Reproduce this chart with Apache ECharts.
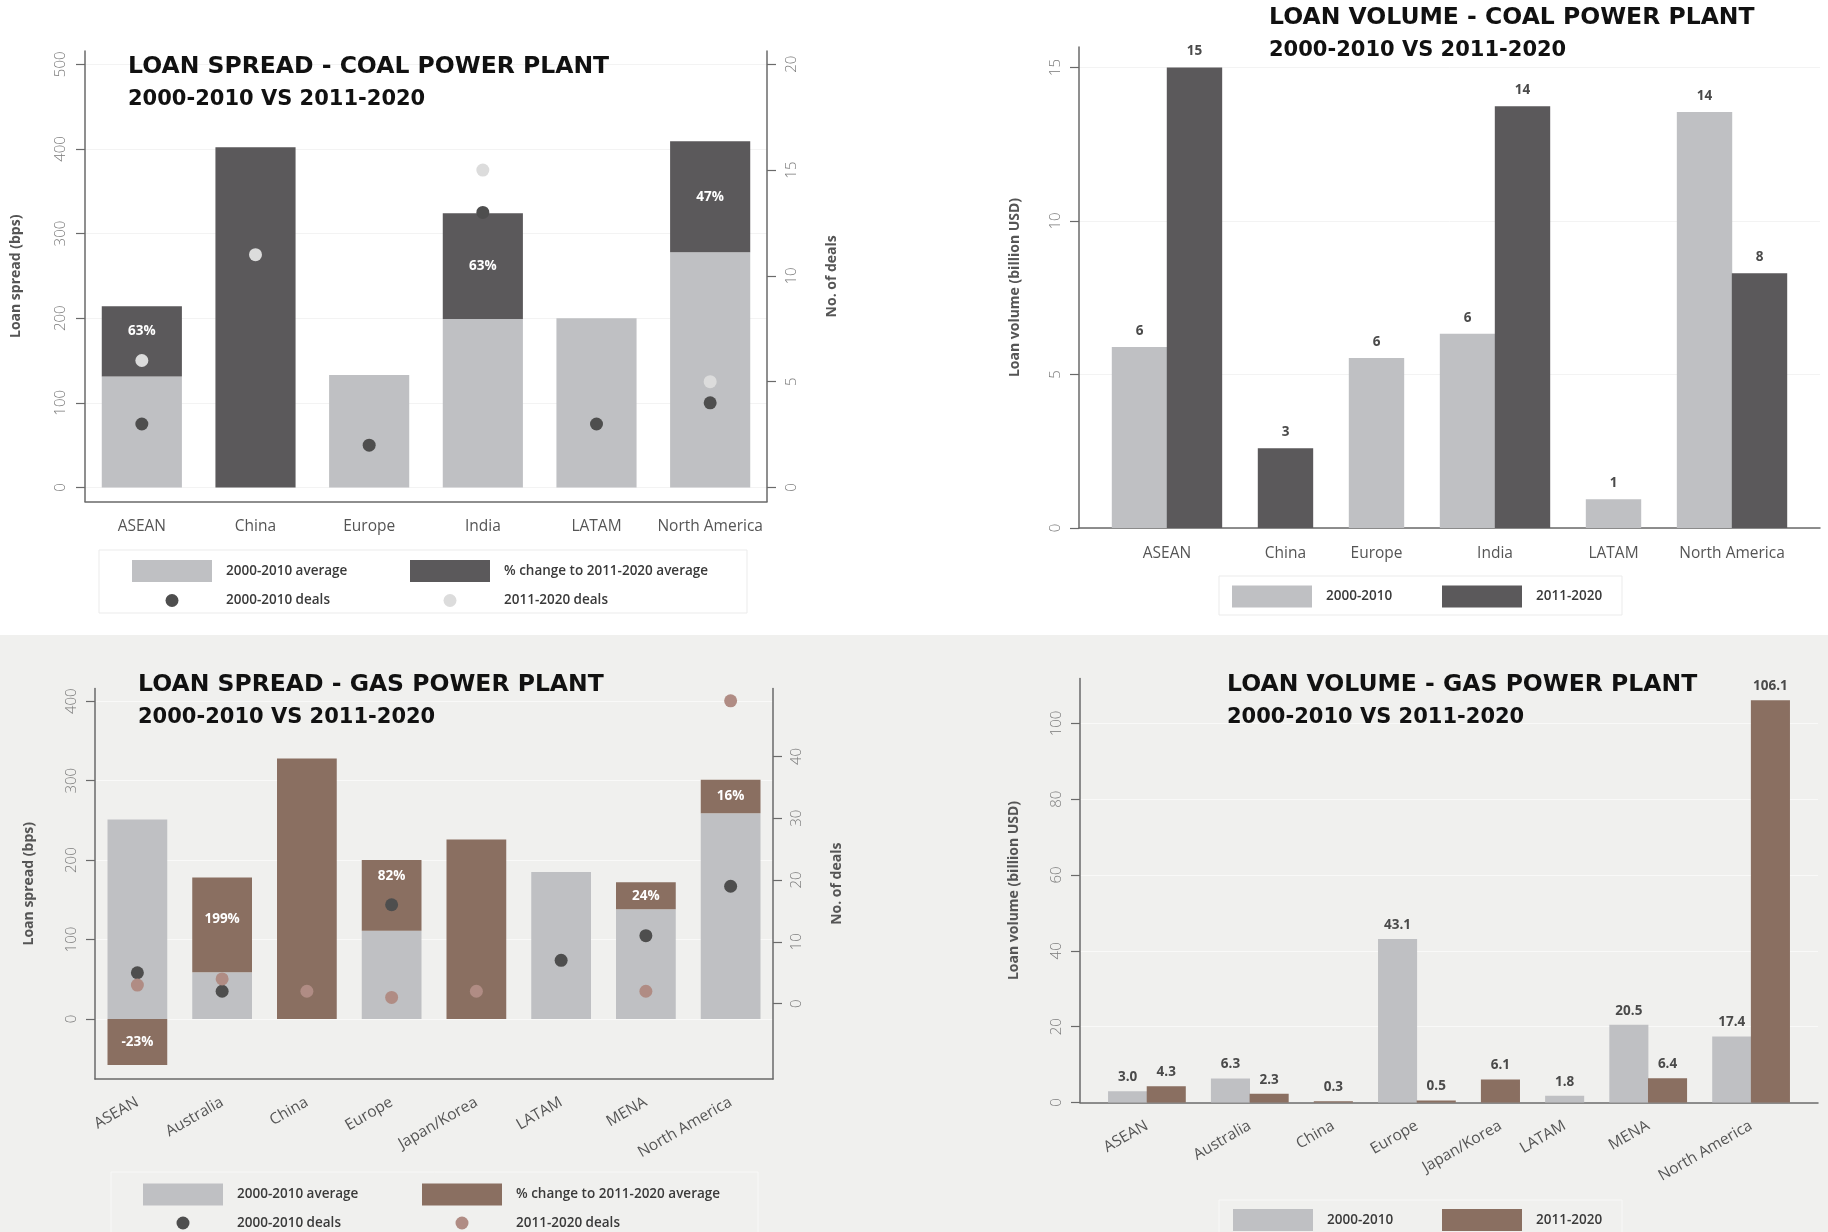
<!DOCTYPE html>
<html><head><meta charset="utf-8">
<script src="https://cdn.jsdelivr.net/npm/echarts@6/dist/echarts.min.js"></script>
<style>
html,body{margin:0;padding:0;width:1828px;height:1232px;overflow:hidden;background:#fff}
.p{position:absolute}
#tl{left:0;top:0;width:914px;height:635px;background:#ffffff}
#tr{left:914px;top:0;width:914px;height:635px;background:#ffffff}
#bl{left:0;top:635px;width:914px;height:597px;background:#f0f0ee}
#br{left:914px;top:635px;width:914px;height:597px;background:#f0f0ee}
</style></head><body>
<div id="tl" class="p"></div><div id="tr" class="p"></div>
<div id="bl" class="p"></div><div id="br" class="p"></div>
<script>
// ---------------- DATA ----------------
const coalCats = ['ASEAN', 'China', 'Europe', 'India', 'LATAM', 'North America'];
const coalAvg0010 = [131, null, 133, 199, 200, 278];
const coalAvg1120 = [214, 402, null, 324, null, 409];
const coalPctChange = [63, null, null, 63, null, 47];
const coalDeals0010 = [3, null, 2, 13, 3, 4];
const coalDeals1120 = [6, 11, null, 15, null, 5];
const coalSpreadTicks = [0, 100, 200, 300, 400, 500];
const coalDealTicks = [0, 5, 10, 15, 20];

const coalVol0010 = [5.9, null, 5.54, 6.33, 0.94, 13.55];
const coalVol1120 = [15.0, 2.6, null, 13.74, null, 8.3];
const coalVolTicks = [0, 5, 10, 15];

const gasCats = ['ASEAN', 'Australia', 'China', 'Europe', 'Japan/Korea', 'LATAM', 'MENA', 'North America'];
const gasAvg0010 = [251, 59, null, 111, null, 185, 138, 259];
const gasAvg1120 = [193, 178, 328, 200, 226, null, 172, 301];
const gasPctChange = [-23, 199, null, 82, null, null, 24, 16];
const gasDeals0010 = [5, 2, null, 16, null, 7, 11, 19];
const gasDeals1120 = [3, 4, 2, 1, 2, null, 2, 49];
const gasSpreadTicks = [0, 100, 200, 300, 400];
const gasDealTicks = [0, 10, 20, 30, 40];

const gasVol0010 = [3.0, 6.3, null, 43.1, null, 1.8, 20.5, 17.4];
const gasVol1120 = [4.3, 2.3, 0.3, 0.5, 6.1, null, 6.4, 106.1];
const gasVolTicks = [0, 20, 40, 60, 80, 100];

// ---------------- STYLE ----------------
const FONT = "'Open Sans', 'DejaVu Sans', sans-serif";
const TFONT = "'DejaVu Sans', sans-serif";
const C = {
  light: '#bfc0c3', dark: '#5b595b', brown: '#8a6f61',
  dotDark: '#4e4e4e', dotLightCoal: '#dcdcdc', dotLightGas: '#b08c84', axis: '#6a6a6a'
};

function titleCfg(main, left, top) {
  return {
    text: main, subtext: '2000-2010 VS 2011-2020', left: left, top: top, padding: 0, itemGap: 10.5,
    textStyle: { fontFamily: TFONT, fontWeight: 'bold', fontSize: 23.5, color: '#111' },
    subtextStyle: { fontFamily: TFONT, fontWeight: 'bold', fontSize: 21, color: '#111' }
  };
}

function yAxisCfg(o) {
  return {
    type: 'value', min: o.min, max: o.max, position: o.position,
    name: o.name, nameLocation: 'middle', nameGap: o.nameGap, nameRotate: 90,
    nameTextStyle: { fontFamily: FONT, fontWeight: 'bold', fontSize: 14, color: '#555' },
    axisLine: { show: true, onZero: false, lineStyle: { color: C.axis, width: 1.5 } },
    axisTick: { show: true, length: 9, customValues: o.ticks, lineStyle: { color: C.axis, width: 1.2 } },
    axisLabel: { customValues: o.ticks, rotate: 90, margin: o.margin, fontFamily: FONT, fontSize: 15, fontWeight: 300, color: '#7a7a7a' },
    splitLine: { show: !!o.grid, lineStyle: { color: o.grid || '#eee', width: 1 } }
  };
}

// rect legend items: icon 80 wide, text starts 14px after the icon
function legendRect(name, left, top) {
  return {
    data: [{ name: name, icon: 'rect' }], left: left, top: top, itemWidth: 80, itemHeight: 22,
    padding: 0, selectedMode: false,
    textStyle: { fontFamily: FONT, fontWeight: 600, fontSize: 13.5, color: '#3a3a3a', padding: [0, 0, 0, 9] }
  };
}
// dot legend items: dot centred under the 80px rect slot, text aligned with the rect text
function legendDot(name, slotLeft, top) {
  return {
    data: [{ name: name, icon: 'circle' }], left: slotLeft + 40 - 6.5, top: top, itemWidth: 13, itemHeight: 13,
    padding: 0, selectedMode: false,
    textStyle: { fontFamily: FONT, fontWeight: 600, fontSize: 13.5, color: '#3a3a3a', padding: [0, 0, 0, 42.5] }
  };
}

function boxCfg(x, y, w, h, stroke) {
  return { type: 'rect', z: 0, shape: { x: x, y: y, width: w, height: h }, style: { fill: 'none', stroke: stroke, lineWidth: 1 } };
}

function spreadOption(o) {
  const change = o.avg1120.map((v, i) => v == null ? null : (o.avg0010[i] == null ? v : v - o.avg0010[i]));
  const changeData = change.map((v, i) => ({
    value: v,
    label: { offset: [0, o.labelShift[o.cats[i]] || 0] }
  }));
  return {
    animation: false,
    title: titleCfg(o.title, o.titleLeft, o.titleTop),
    grid: o.grid,
    xAxis: {
      type: 'category', data: o.cats,
      axisLine: { show: true, onZero: false, lineStyle: { color: C.axis, width: 1.5 } },
      axisTick: { show: false },
      axisLabel: { interval: 0, rotate: o.xRotate, margin: o.xMargin, fontFamily: FONT, fontSize: o.xFont, color: '#555' }
    },
    yAxis: [
      yAxisCfg({ min: o.yMin, max: o.yMax, position: 'left', name: 'Loan spread (bps)', nameGap: o.nameGapL, ticks: o.spreadTicks, margin: o.labelMargin, grid: o.gridColor }),
      yAxisCfg({ min: o.y2Min, max: o.y2Max, position: 'right', name: 'No. of deals', nameGap: o.nameGapR, ticks: o.dealTicks, margin: o.labelMargin })
    ],
    legend: [
      legendRect('2000-2010 average', o.leg[0], o.leg[1]),
      legendRect('% change to 2011-2020 average', o.leg[2], o.leg[1]),
      legendDot('2000-2010 deals', o.leg[0], o.leg[3]),
      legendDot('2011-2020 deals', o.leg[2], o.leg[3])
    ],
    graphic: [boxCfg(o.box[0], o.box[1], o.box[2], o.box[3], o.boxStroke)],
    series: [
      { name: '2000-2010 average', type: 'bar', stack: 'spread', barWidth: '70.5%', data: o.avg0010,
        itemStyle: { color: C.light } },
      { name: '% change to 2011-2020 average', type: 'bar', stack: 'spread', barWidth: '70.5%', data: changeData,
        itemStyle: { color: o.changeColor },
        label: { show: true, position: 'inside', fontFamily: FONT, fontWeight: 'bold', fontSize: 13.5, color: '#fff',
          formatter: p => o.pct[p.dataIndex] == null ? '' : o.pct[p.dataIndex] + '%' } },
      { name: '2000-2010 deals', type: 'scatter', yAxisIndex: 1, data: o.deals0010, symbolSize: 13, z: 3,
        itemStyle: { color: C.dotDark, opacity: 1 } },
      { name: '2011-2020 deals', type: 'scatter', yAxisIndex: 1, data: o.deals1120, symbolSize: 13, z: 3,
        itemStyle: { color: o.dot2Color, opacity: 1 } }
    ]
  };
}

function groupLayout(a, b, outer, gap) {
  const pa = [], pb = [], centers = [];
  let x = outer;
  for (let i = 0; i < a.length; i++) {
    const n = (a[i] != null ? 1 : 0) + (b[i] != null ? 1 : 0);
    let s = x;
    if (a[i] != null) { pa.push([s + 0.5, a[i]]); s += 1; }
    if (b[i] != null) { pb.push([s + 0.5, b[i]]); }
    centers.push(x + n / 2);
    x += n + (i < a.length - 1 ? gap : 0);
  }
  return { pa: pa, pb: pb, centers: centers, total: x + outer };
}

function volumeOption(o) {
  const L = groupLayout(o.v0010, o.v1120, o.outer, o.gap);
  const unit = o.grid.width / L.total;
  const nameAt = v => { const i = L.centers.findIndex(c => Math.abs(c - v) < 1e-6); return i < 0 ? '' : o.cats[i]; };
  const lbl = { show: true, position: 'top', distance: o.labelDist, fontFamily: FONT, fontWeight: 'bold', fontSize: 13.5, color: '#4a4a4a',
    formatter: p => p.value[1].toFixed(o.decimals) };
  return {
    animation: false,
    title: titleCfg(o.title, o.titleLeft, o.titleTop),
    grid: o.grid,
    xAxis: [
      { type: 'value', min: 0, max: L.total,
        axisLine: { show: true, onZero: false, lineStyle: { color: C.axis, width: 1.5 } },
        axisTick: { show: false }, splitLine: { show: false },
        axisLabel: { customValues: L.centers, formatter: nameAt, rotate: o.xRotate, margin: o.xMargin,
          fontFamily: FONT, fontSize: o.xFont, color: '#555' } },
      { type: 'value', min: 0, max: L.total, show: false }
    ],
    yAxis: yAxisCfg({ min: 0, max: o.yMax, position: 'left', name: 'Loan volume (billion USD)', nameGap: o.nameGap, ticks: o.ticks, margin: o.labelMargin, grid: o.gridColor }),
    legend: [
      legendRect('2000-2010', o.leg[0], o.leg[1]),
      legendRect('2011-2020', o.leg[2], o.leg[1])
    ],
    graphic: [boxCfg(o.box[0], o.box[1], o.box[2], o.box[3], o.boxStroke)],
    series: [
      { name: '2000-2010', type: 'bar', xAxisIndex: 0, data: L.pa, barWidth: unit + 0.4, itemStyle: { color: C.light }, label: lbl },
      { name: '2011-2020', type: 'bar', xAxisIndex: 1, data: L.pb, barWidth: unit + 0.4, itemStyle: { color: o.color2 }, label: lbl }
    ]
  };
}

// ---------------- CHARTS ----------------
echarts.init(document.getElementById('tl')).setOption(spreadOption({
  title: 'LOAN SPREAD - COAL POWER PLANT', titleLeft: 128, titleTop: 55,
  grid: { left: 85, top: 51, width: 682, height: 450.6 },
  cats: coalCats, avg0010: coalAvg0010, avg1120: coalAvg1120, pct: coalPctChange,
  deals0010: coalDeals0010, deals1120: coalDeals1120,
  spreadTicks: coalSpreadTicks, dealTicks: coalDealTicks,
  yMin: -16.7, yMax: 515.7, y2Min: -0.668, y2Max: 20.628,
  nameGapL: 62, nameGapR: 58, labelMargin: 17, gridColor: '#f3f3f3',
  xRotate: 0, xMargin: 17, xFont: 15.5,
  changeColor: C.dark, dot2Color: C.dotLightCoal, labelShift: { 'ASEAN': -10 },
  leg: [132, 560, 410, 593.5], box: [99, 550, 648, 63], boxStroke: '#ebebeb'
}));

echarts.init(document.getElementById('tr')).setOption(volumeOption({
  title: 'LOAN VOLUME - COAL POWER PLANT', titleLeft: 355, titleTop: 6,
  grid: { left: 165, top: 47, width: 741, height: 481 },
  cats: coalCats, v0010: coalVol0010, v1120: coalVol1120, outer: 0.6, gap: 0.655,
  yMax: 15.67, ticks: coalVolTicks, nameGap: 57, labelMargin: 16, gridColor: '#f3f3f3',
  xRotate: 0, xMargin: 18, xFont: 15.5, decimals: 0, labelDist: 9,
  color2: C.dark, leg: [318, 585.5, 528], box: [305, 576, 403, 39], boxStroke: '#ebebeb'
}));

echarts.init(document.getElementById('bl')).setOption(spreadOption({
  title: 'LOAN SPREAD - GAS POWER PLANT', titleLeft: 138, titleTop: 38,
  grid: { left: 95, top: 53.5, width: 678, height: 390.5 },
  cats: gasCats, avg0010: gasAvg0010, avg1120: gasAvg1120, pct: gasPctChange,
  deals0010: gasDeals0010, deals1120: gasDeals1120,
  spreadTicks: gasSpreadTicks, dealTicks: gasDealTicks,
  yMin: -75.5, yMax: 416, y2Min: -12.2, y2Max: 51,
  nameGapL: 59, nameGapR: 57, labelMargin: 16, gridColor: '#f9f9f8',
  xRotate: 30, xMargin: 22, xFont: 15.5,
  changeColor: C.brown, dot2Color: C.dotLightGas, labelShift: { 'Europe': -19, 'Australia': -6 },
  leg: [143, 548.5, 422, 581], box: [111, 537, 647, 70], boxStroke: '#f8f8f7'
}));

echarts.init(document.getElementById('br')).setOption(volumeOption({
  title: 'LOAN VOLUME - GAS POWER PLANT', titleLeft: 313, titleTop: 38,
  grid: { left: 166, top: 43.5, width: 738, height: 424 },
  cats: gasCats, v0010: gasVol0010, v1120: gasVol1120, outer: 0.73, gap: 0.66,
  yMax: 111.85, ticks: gasVolTicks, nameGap: 59, labelMargin: 16, gridColor: '#f9f9f8',
  xRotate: 30, xMargin: 22, xFont: 15.5, decimals: 1, labelDist: 7,
  color2: C.brown, leg: [319, 574, 528], box: [305, 565, 403, 40], boxStroke: '#f8f8f7'
}));
</script>
</body></html>
